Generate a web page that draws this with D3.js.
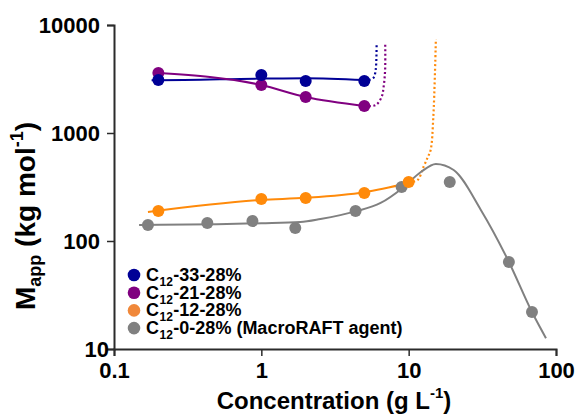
<!DOCTYPE html>
<meta charset="utf-8">
<body style="margin:0; background:#fff">
<script src="https://cdn.jsdelivr.net/npm/d3@7"></script>
<script>

 // measured points
 var blueX = [0.2, 1, 2, 5];
 var blueY = [3100, 3440, 3030, 3030];
 var purpleX = [0.2, 1, 2, 5];
 var purpleY = [3590, 2780, 2150, 1780];
 var orangeX = [0.2, 1, 2, 5, 10];
 var orangeY = [190, 245, 250, 278, 351];
 var grayX = [0.17, 0.43, 0.87, 1.7, 4.36, 8.96, 19, 47.9, 68.7];
 var grayY = [141, 147, 153, 132, 190, 316, 351, 64, 22];

 // fitted curves (solid)
 var blueFitX = [0.18, 0.2, 1, 2, 5];
 var blueFitY = [3080, 3080, 3190, 3220, 3090];
 var purpleFitX = [0.2, 1, 2, 5];
 var purpleFitY = [3590, 2780, 2150, 1780];
 var orangeFitX = [0.17, 1, 2, 5, 10];
 var orangeFitY = [186, 240, 251, 283, 344];
 var grayFitX = [0.148, 0.5, 1, 1.84, 2.52, 4.36, 6.45, 9.1, 12.1, 15.3, 20.2, 30.9, 47.9, 68.7, 85.5];
 var grayFitY = [141, 143, 146, 150, 160, 188, 225, 310, 435, 516, 454, 194, 64, 22, 12.6];

 // divergence (dotted)
 var blueDotX = [5, 5.5, 5.8, 5.97, 6.04, 6.06];
 var blueDotY = [3030, 3130, 3280, 3830, 5000, 6800];
 var purpleDotX = [5, 5.97, 6.55, 6.76, 6.92, 6.93];
 var purpleDotY = [1780, 1815, 2155, 2670, 3830, 6810];
 var orangeDotX = [10, 11.5, 12.6, 13.5, 14.1, 14.7, 15.3];
 var orangeDotY = [351, 367, 484, 600, 697, 1407, 7420];

 var legendSuffix = ["-33-28%", "-21-28%", "-12-28%", "-0-28% (MacroRAFT agent)"];
 var colors = ["#000096", "#800080", "#ff8a0a", "#808080"];
 var legendColors = ["#000096", "#800080", "#f0883a", "#808080"];

 var xTicks = [0.1, 1, 10, 100];
 var yTicks = [10, 100, 1000, 10000];

 var W = 578, H = 414;
 var font = "'Liberation Sans', Arial, sans-serif";

 var svg = d3.select("body").append("svg")
             .attr("width", W).attr("height", H)
             .attr("font-family", font)
             .attr("font-weight", "bold");

 var x = d3.scaleLog().domain([0.1, 100]).range([114, 556]);
 var y = d3.scaleLog().domain([10, 10000]).range([349, 25]);

 function zip(xs, ys) { return xs.map((d, i) => [d, ys[i]]); }

 var series = [
     {pts: zip(blueX, blueY), fit: zip(blueFitX, blueFitY), dot: zip(blueDotX, blueDotY)},
     {pts: zip(purpleX, purpleY), fit: zip(purpleFitX, purpleFitY), dot: zip(purpleDotX, purpleDotY)},
     {pts: zip(orangeX, orangeY), fit: zip(orangeFitX, orangeFitY), dot: zip(orangeDotX, orangeDotY)},
     {pts: zip(grayX, grayY), fit: zip(grayFitX, grayFitY), dot: null},
 ];

 // axes
 var minorX = x.ticks().filter(d => xTicks.indexOf(d) < 0);
 var minorY = y.ticks().filter(d => yTicks.indexOf(d) < 0);

 var axisColor = "#2b2b2b";

 var gx = svg.append("g").attr("transform", "translate(0,349)");
 gx.call(d3.axisBottom(x).tickValues(minorX).tickSize(4).tickFormat(""));
 gx.call(d3.axisBottom(x).tickValues(xTicks).tickSize(7).tickFormat(d3.format("")));

 var gy = svg.append("g").attr("transform", "translate(114,0)");
 gy.call(d3.axisLeft(y).tickValues(minorY).tickSize(4).tickFormat(""));
 gy.call(d3.axisLeft(y).tickValues(yTicks).tickSize(7).tickPadding(7).tickFormat(d3.format("")));

 [gx, gy].forEach(g => {
     g.selectAll(".domain").attr("stroke", axisColor).attr("stroke-width", 2);
     g.selectAll(".tick line").attr("stroke", axisColor).attr("stroke-width", 1.5);
     g.selectAll("text").attr("font-size", 22).attr("font-family", font)
      .attr("font-weight", "bold").attr("fill", "#000");
 });
 gx.selectAll("text").attr("y", 29).attr("dy", 0);
 gy.selectAll("text").attr("dy", "0.36em")
   .filter(d => d === 10).attr("dx", 9);

 // curves
 var line = d3.line().x(d => x(d[0])).y(d => y(d[1]));
 var plot = svg.append("g");

 series.forEach((s, i) => {
     plot.append("path")
         .attr("d", line.curve(d3.curveMonotoneX)(s.fit))
         .attr("fill", "none").attr("stroke", colors[i]).attr("stroke-width", 2);
     if (s.dot) {
         plot.append("path")
             .attr("d", line.curve(d3.curveCatmullRom.alpha(0.5))(s.dot))
             .attr("fill", "none").attr("stroke", colors[i]).attr("stroke-width", 2.2)
             .attr("stroke-dasharray", "2,2.5");
     }
 });

 // points, drawn bottom series first
 [3, 2, 1, 0].forEach(i => {
     plot.selectAll(".pt" + i)
         .data(series[i].pts)
         .enter().append("circle")
         .attr("class", "pt" + i)
         .attr("cx", d => x(d[0])).attr("cy", d => y(d[1]))
         .attr("r", 6).attr("fill", colors[i]);
 });

 // legend
 var leg = svg.append("g");
 legendSuffix.forEach((s, i) => {
     var ly = 275 + i * 17.7;
     leg.append("circle").attr("cx", 134).attr("cy", ly).attr("r", 6.3).attr("fill", legendColors[i]);
     var t = leg.append("text").attr("x", 146).attr("y", ly + 6).attr("font-size", 18);
     t.append("tspan").text("C");
     t.append("tspan").attr("font-size", 12).attr("dx", 0.5).attr("dy", 5).text("12");
     t.append("tspan").attr("dx", 0.5).attr("dy", -5).text(s);
 });

 // axis titles
 var xt = svg.append("text").attr("x", 334).attr("y", 409)
             .attr("text-anchor", "middle").attr("font-size", 24);
 xt.append("tspan").text("Concentration (g L");
 xt.append("tspan").attr("font-size", 15).attr("dy", -11).text("-1");
 xt.append("tspan").attr("dy", 11).text(")");

 var yt = svg.append("text").attr("transform", "translate(35,216) rotate(-90)")
             .attr("text-anchor", "middle").attr("font-size", 28);
 yt.append("tspan").text("M");
 yt.append("tspan").attr("font-size", 18).attr("dy", 6).text("app");
 yt.append("tspan").attr("dy", -6).text(" (kg mol");
 yt.append("tspan").attr("font-size", 18).attr("dy", -12).text("-1");
 yt.append("tspan").attr("dy", 12).text(")");

</script>
